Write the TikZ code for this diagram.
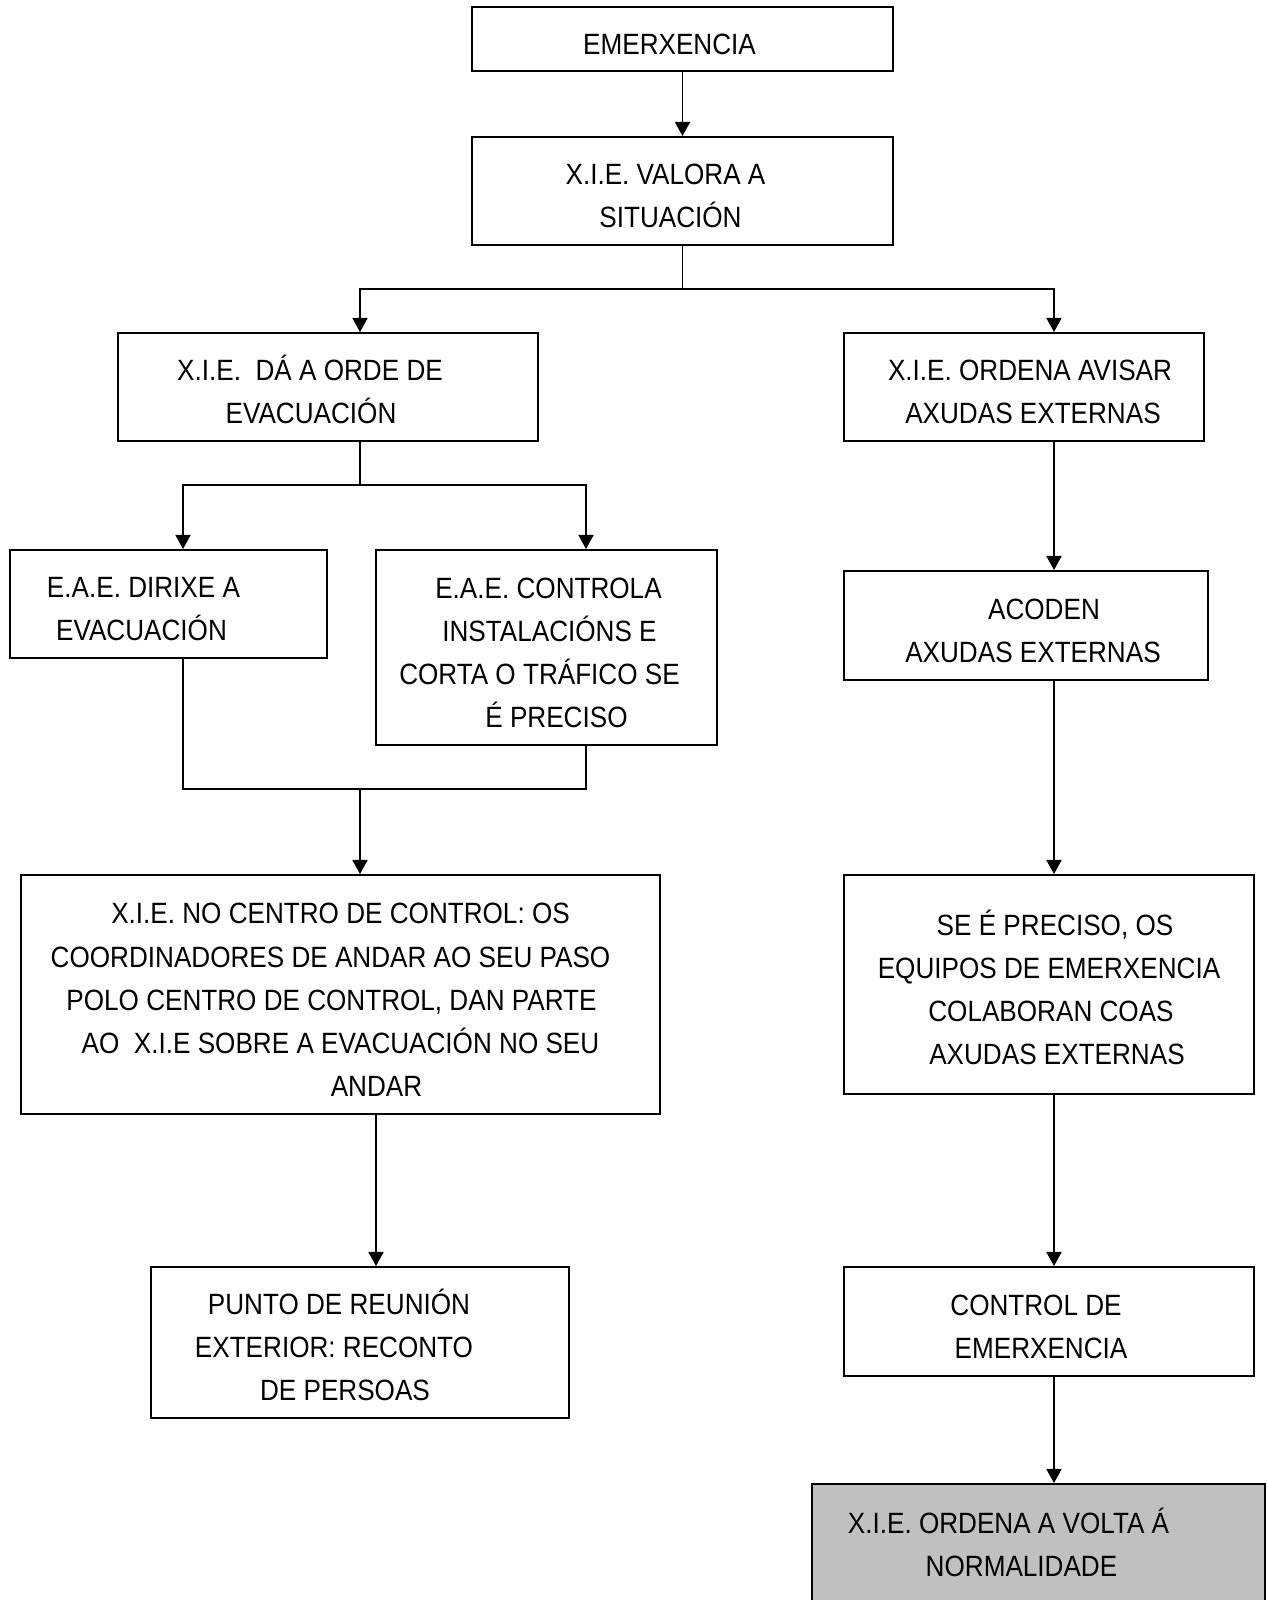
\documentclass[tikz,border=0pt]{standalone}
\usepackage{fontspec}
\setmainfont{Liberation Sans}[FakeStretch=0.89]
\usetikzlibrary{arrows.meta}

\newdimen\pxu
\pxu=0.02cm
\newcommand{\pad}[1]{\hbox to #1\pxu{}}
\newcommand{\boxstrut}{\rule{0pt}{17.7pt}}

\begin{document}
\begin{tikzpicture}[x=0.02cm, y=-0.02cm, line width=1.1pt,
	>={Triangle[length=8pt, width=8.5pt]},
	box/.style={draw, rectangle, inner sep=0pt, align=center,
		font=\fontsize{16.7}{24.5}\selectfont}]
	\useasboundingbox (0,0) rectangle (1268,1600);

	\node[box, minimum width=421*\pxu, minimum height=64*\pxu] (emerxencia) at (682.5,39)
		{\boxstrut EMERXENCIA\pad{26}};
	\node[box, minimum width=421*\pxu, minimum height=108*\pxu] (valora) at (682.5,191)
		{\boxstrut X.I.E. VALORA A\pad{34}\\ SITUACIÓN\pad{24}};
	\node[box, minimum width=420*\pxu, minimum height=108*\pxu] (orde) at (328,387)
		{\boxstrut X.I.E.~~DÁ A ORDE DE\pad{36}\\ EVACUACIÓN\pad{34}};
	\node[box, minimum width=360*\pxu, minimum height=108*\pxu] (avisar) at (1024,387)
		{\boxstrut\pad{12}X.I.E. ORDENA AVISAR\\ \pad{18}AXUDAS EXTERNAS};
	\node[box, minimum width=317*\pxu, minimum height=108*\pxu] (dirixe) at (168.5,604)
		{\boxstrut E.A.E. DIRIXE A\pad{50}\\ EVACUACIÓN\pad{54}};
	\node[box, minimum width=341*\pxu, minimum height=195*\pxu] (controla) at (546.5,647.5)
		{\boxstrut\pad{4}E.A.E. CONTROLA\\ \pad{6}INSTALACIÓNS E\\ CORTA O TRÁFICO SE\pad{14}\\ \pad{20}É PRECISO};
	\node[box, minimum width=639*\pxu, minimum height=239*\pxu] (centro) at (340.5,994.5)
		{\boxstrut X.I.E. NO CENTRO DE CONTROL: OS\\ COORDINADORES DE ANDAR AO SEU PASO\pad{20}\\
		 POLO CENTRO DE CONTROL, DAN PARTE\pad{18}\\ AO~~X.I.E SOBRE A EVACUACIÓN NO SEU\\ \pad{72}ANDAR};
	\node[box, minimum width=418*\pxu, minimum height=151*\pxu] (punto) at (360,1342.5)
		{\boxstrut PUNTO DE REUNIÓN\pad{42}\\ EXTERIOR: RECONTO\pad{52}\\ DE PERSOAS\pad{30}};

	\node[box, minimum width=364*\pxu, minimum height=109*\pxu] (acoden) at (1026,625.5)
		{\boxstrut\pad{36}ACODEN\\ \pad{14}AXUDAS EXTERNAS};
	\node[box, minimum width=410*\pxu, minimum height=219*\pxu] (colaboran) at (1049,984.5)
		{\boxstrut\pad{12}SE É PRECISO, OS\\ EQUIPOS DE EMERXENCIA\\ \pad{4}COLABORAN COAS\\ \pad{16}AXUDAS EXTERNAS};
	\node[box, minimum width=410*\pxu, minimum height=109*\pxu] (control) at (1049,1321.5)
		{\boxstrut CONTROL DE\pad{26}\\ EMERXENCIA\pad{16}};
	\node[box, fill={rgb,255:red,192;green,192;blue,192}, minimum width=453*\pxu, minimum height=120*\pxu]
		(normalidade) at (1038.5,1544)
		{\boxstrut X.I.E. ORDENA A VOLTA Á\pad{60}\\ NORMALIDADE\pad{34}\rule[-5.7pt]{0pt}{0pt}};

	\coordinate (topsplit) at (682.5,289);
	\coordinate (ordesplit) at (360,485);
	\coordinate (join) at (360,789);

	\draw[->] (emerxencia) -- (valora);
	\draw (valora.south) -- (topsplit);
	\draw[->] (topsplit) -| ([xshift=32*\pxu]orde.north);
	\draw[->] (topsplit) -| ([xshift=30*\pxu]avisar.north);

	\draw ([xshift=32*\pxu]orde.south) -- (ordesplit);
	\draw[->] (ordesplit) -| ([xshift=14.5*\pxu]dirixe.north);
	\draw[->] (ordesplit) -| ([xshift=39.5*\pxu]controla.north);
	\draw ([xshift=14.5*\pxu]dirixe.south) |- (join) -| ([xshift=39.5*\pxu]controla.south);
	\draw[->] (join) -- ([xshift=19.5*\pxu]centro.north);
	\draw[->] ([xshift=35.5*\pxu]centro.south) -- ([xshift=16*\pxu]punto.north);

	\draw[->] ([xshift=30*\pxu]avisar.south) -- ([xshift=28*\pxu]acoden.north);
	\draw[->] ([xshift=28*\pxu]acoden.south) -- ([xshift=5*\pxu]colaboran.north);
	\draw[->] ([xshift=5*\pxu]colaboran.south) -- ([xshift=5*\pxu]control.north);
	\draw[->] ([xshift=5*\pxu]control.south) -- ([xshift=15.5*\pxu]normalidade.north);
\end{tikzpicture}
\end{document}
